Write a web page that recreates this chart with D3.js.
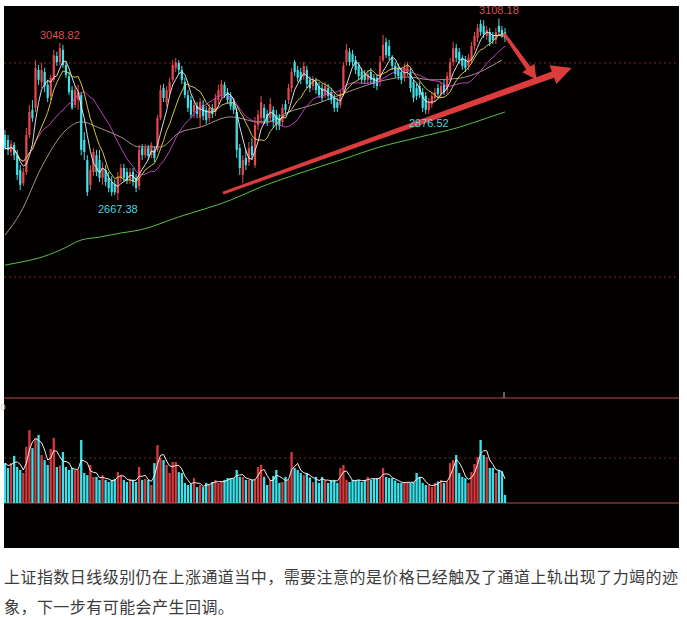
<!DOCTYPE html>
<html><head><meta charset="utf-8">
<script src="https://cdn.jsdelivr.net/npm/d3@7"></script>
<style>
html,body{margin:0;padding:0;background:#fff;}
svg{display:block;}
</style></head>
<body>
<svg id="chart" width="687" height="618"></svg>
<script>
// ---- DATA ----
// daily candles: [open, high, low, close]
const ohlc = [
[2825,2837,2789,2793],[2813,2825,2776,2789],[2784,2813,2774,2803],[2801,2808,2764,2776],[2776,2789,2716,2728],
[2740,2752,2691,2704],[2708,2745,2701,2735],[2735,2842,2728,2825],[2825,2898,2818,2881],[2886,2910,2857,2866],
[2891,3007,2881,2988],[2983,2995,2947,2959],[2954,3000,2939,2983],[2978,2988,2929,2944],[2947,2959,2905,2915],
[2920,2971,2910,2964],[2959,3032,2954,3019],[3017,3027,2993,3002],[3002,3048.82,2995,3036],[3032,3044,2988,2995],
[2995,3002,2964,2971],[2968,2978,2922,2929],[2934,2944,2886,2891],[2898,2944,2891,2934],[2910,2947,2886,2929],
[2922,2929,2776,2789],[2813,2832,2764,2784],[2764,2776,2677,2686],[2704,2752,2691,2740],[2735,2793,2725,2784],
[2776,2789,2725,2735],[2764,2789,2711,2721],[2721,2759,2704,2745],[2740,2752,2701,2711],[2721,2735,2686,2696],
[2711,2725,2677,2686],[2706,2716,2679,2686],[2684,2735,2667.38,2721],[2721,2755,2711,2745],[2745,2755,2711,2721],
[2735,2745,2706,2716],[2716,2745,2706,2735],[2735,2745,2701,2711],[2721,2730,2686,2696],[2701,2801,2691,2789],
[2793,2803,2764,2776],[2776,2803,2769,2793],[2793,2801,2764,2774],[2776,2808,2769,2801],[2789,2798,2759,2769],
[2789,2874,2784,2866],[2866,2947,2861,2934],[2939,2949,2905,2915],[2905,2944,2895,2934],[2929,2964,2920,2954],
[2959,3007,2954,2995],[2988,3012,2978,3002],[3000,3007,2973,2983],[2983,2993,2949,2959],[2954,2964,2915,2922],
[2922,2934,2881,2891],[2910,2920,2866,2874],[2881,2910,2866,2898],[2895,2905,2866,2876],[2866,2915,2844,2905],
[2898,2910,2861,2871],[2886,2895,2852,2861],[2866,2900,2857,2891],[2891,2900,2866,2876],[2881,2925,2871,2915],
[2910,2947,2900,2934],[2922,2959,2915,2949],[2947,2954,2915,2922],[2929,2939,2900,2910],[2920,2929,2886,2895],
[2905,2915,2876,2886],[2881,2891,2769,2789],[2793,2803,2728,2745],[2728,2776,2708,2764],[2769,2789,2740,2752],
[2759,2808,2750,2793],[2798,2818,2764,2776],[2752,2869,2745,2849],[2849,2886,2837,2874],[2866,2920,2857,2905],
[2891,2900,2852,2866],[2876,2886,2847,2857],[2866,2915,2857,2900],[2886,2895,2842,2857],[2874,2886,2837,2849],
[2866,2876,2837,2847],[2857,2900,2847,2891],[2900,2910,2876,2886],[2910,2949,2900,2939],[2939,2988,2929,2978],
[3002,3007,2968,2978],[2983,2993,2954,2964],[2978,2988,2949,2959],[2968,3002,2959,2993],[2983,2993,2939,2949],
[2959,2968,2929,2939],[2944,2968,2934,2959],[2954,2964,2925,2934],[2944,2954,2915,2922],[2939,2949,2905,2915],
[2922,2954,2915,2944],[2939,2949,2910,2920],[2929,2939,2900,2910],[2915,2925,2881,2891],[2905,2915,2881,2891],
[2898,2934,2891,2925],[2929,3002,2920,2993],[3002,3046,2993,3032],[3027,3036,2993,3002],[3022,3032,2993,3002],
[3007,3017,2973,2983],[2993,3002,2959,2968],[2978,2988,2949,2959],[2973,2983,2949,2959],[2959,2983,2949,2973],
[2978,2988,2949,2959],[2964,2973,2939,2949],[2964,2973,2934,2944],[2954,3017,2944,3002],[3007,3068,3002,3044],
[3051,3061,3012,3019],[3041,3056,3007,3017],[3012,3019,2983,2993],[2993,3002,2964,2973],[2988,2998,2959,2968],
[2978,2988,2949,2959],[2964,2998,2954,2988],[2978,3002,2968,2995],[2978,2988,2929,2939],[2954,2959,2905,2915],
[2939,2949,2910,2920],[2944,2954,2915,2922],[2929,2939,2881,2891],[2920,2929,2876,2886],[2886,2915,2876.52,2905],
[2900,2929,2891,2920],[2915,2939,2905,2929],[2939,2949,2915,2925],[2925,2954,2915,2944],[2947,2959,2922,2929],
[2934,2978,2925,2968],[2964,3012,2954,3002],[3002,3051,2993,3036],[3036,3046,3002,3012],[3027,3036,2998,3007],
[3012,3019,2983,2993],[3007,3017,2978,2988],[2993,3022,2983,3012],[3007,3051,2998,3041],[3041,3075,3032,3066],
[3061,3095,3051,3085],[3095,3105,3066,3075],[3090,3104,3061,3070],[3066,3090,3056,3080],[3075,3085,3041,3051],
[3066,3075,3046,3056],[3056,3085,3046,3075],[3090,3108.18,3066,3075],[3080,3090,3061,3068],[3075,3085,3051,3061]
];
// daily volume (same order as candles)
const volume = [
133,117,133,157,120,110,100,187,243,183,217,227,160,143,127,180,217,120,125,170,
120,110,117,110,110,210,100,93,127,87,87,77,93,77,70,77,80,103,90,77,
70,80,77,70,120,77,80,77,60,133,193,150,143,127,100,137,137,103,100,67,
60,63,83,53,60,53,67,63,70,77,67,70,77,83,83,83,110,87,87,77,
77,77,77,120,127,87,60,77,90,110,67,70,87,77,170,117,110,100,93,100,
85,70,87,67,87,75,67,77,77,67,117,127,77,70,77,77,77,70,77,87,
77,80,83,87,117,87,83,83,75,67,67,70,70,67,70,100,87,67,60,60,
53,67,72,77,67,70,133,143,160,100,87,83,67,103,130,153,210,160,153,117,
117,100,110,105,27
];
// long moving averages (candle index, value)
const ma60Idx = [0,5,12,20,25,31,38,44,51,57,64,74,85,92,103,114,125,132,140,149,163];
const ma60Val = [2582,2635,2747,2837,2857,2842,2820,2796,2796,2830,2844,2869,2854,2878,2903,2934,2959,2966,2959,2963,3007];
const maLongIdx = [0,5,11,18,25,31,38,44,57,74,84,97,110,123,136,149,158,164];
const maLongVal = [2509,2516,2526,2545,2570,2577,2587,2594,2626,2667,2699,2733,2764,2796,2820,2844,2866,2881];
// extreme-price labels
const peakLabels = [
  {i:18, v:3048.82, side:"top"},
  {i:37, v:2667.38, side:"bottom"},
  {i:139, v:2876.52, side:"bottom"},
  {i:162, v:3108.18, side:"top"}
];
// horizontal reference lines
const priceGrid = [3000, 2480];
const volGrid = [150];
// hand-drawn arrows in data coordinates [index, price]
const arrows = [
  {from:[71.5,2684], to:[185.9,2988], w0:3, w1:6.5, head:20, hw:10},
  {from:[163.6,3072], to:[174.3,2960], w0:3, w1:5, head:14, hw:7.5}
];
const caption = [
  "上证指数日线级别仍在上涨通道当中，需要注意的是价格已经触及了通道上轨出现了力竭的迹",
  "象，下一步有可能会产生回调。"
];

// ---- DRAW ----
const svg = d3.select("#chart");
const P = {x:4, y:6, w:675, h:542};
const UP = "#e8484c", DOWN = "#44e0e8";

svg.append("rect").attr("x",P.x).attr("y",P.y).attr("width",P.w).attr("height",P.h).attr("fill","#030000");
svg.append("clipPath").attr("id","clip").append("rect")
  .attr("x",P.x).attr("y",P.y).attr("width",P.w).attr("height",P.h);
const g = svg.append("g").attr("clip-path","url(#clip)");

const N = ohlc.length;
const x = d3.scaleLinear().domain([0, N-1]).range([5, 505]);
const y = d3.scaleLinear().domain([2400, 3150]).range([310, 1.2]);
const yv = d3.scaleLinear().domain([0, 350]).range([503, 398]);

// grid / separators
priceGrid.forEach(v=>{
  g.append("line").attr("x1",P.x).attr("x2",P.x+P.w).attr("y1",y(v)).attr("y2",y(v))
   .attr("stroke","#7a2a2a").attr("stroke-width",1).attr("stroke-dasharray","2,3");
});
volGrid.forEach(v=>{
  g.append("line").attr("x1",P.x).attr("x2",P.x+P.w).attr("y1",yv(v)).attr("y2",yv(v))
   .attr("stroke","#6a2a2a").attr("stroke-width",1).attr("stroke-dasharray","2,3");
});
[yv(350), yv(0)].forEach(yy=>{
  g.append("line").attr("x1",P.x).attr("x2",P.x+P.w).attr("y1",yy).attr("y2",yy)
   .attr("stroke","#7a3434").attr("stroke-width",1.5);
});
g.append("line").attr("x1",x(N-1)-1).attr("x2",x(N-1)-1).attr("y1",yv(350)-6).attr("y2",yv(350))
  .attr("stroke","#bbbbbb").attr("stroke-width",1);

// long MAs
const lineGen = d3.line().x(d=>x(d[0])).y(d=>y(d[1])).curve(d3.curveMonotoneX);
g.append("path").datum(maLongIdx.map((d,k)=>[d,maLongVal[k]])).attr("d",lineGen)
  .attr("fill","none").attr("stroke","#58c040").attr("stroke-width",1);
g.append("path").datum(ma60Idx.map((d,k)=>[d,ma60Val[k]])).attr("d",lineGen)
  .attr("fill","none").attr("stroke","#a89090").attr("stroke-width",1);

// candles
const cw = 2.2;
const cg = g.append("g");
ohlc.forEach((d,i)=>{
  const [o,h,l,c] = d;
  const col = c>=o ? UP : DOWN;
  cg.append("line").attr("x1",x(i)).attr("x2",x(i)).attr("y1",y(h)).attr("y2",y(l))
    .attr("stroke",col).attr("stroke-width",1);
  const top = y(Math.max(o,c)), bot = y(Math.min(o,c));
  cg.append("rect").attr("x",x(i)-cw/2).attr("y",top).attr("width",cw).attr("height",Math.max(1,bot-top))
    .attr("fill",col);
});

// short MAs computed from closes
function movAvg(arr, n){
  return arr.map((_,i)=>{ const s = arr.slice(Math.max(0,i-n+1), i+1); return d3.mean(s); });
}
const closes = ohlc.map(d=>d[3]);
const simple = d3.line().x((d,i)=>x(i)).y(d=>y(d));
[[20,"#d048d0"],[10,"#e8d848"],[5,"#f0f0f0"]].forEach(([n,col])=>{
  g.append("path").datum(movAvg(closes,n)).attr("d",simple)
   .attr("fill","none").attr("stroke",col).attr("stroke-width",1).attr("opacity",0.9);
});

// volume bars
const vw = 2.3;
volume.forEach((v,i)=>{
  const [o,,,c] = ohlc[i];
  g.append("rect").attr("x",x(i)-vw/2).attr("y",yv(v)).attr("width",vw).attr("height",yv(0)-yv(v))
    .attr("fill", c>=o ? "#d8383c" : "#38e4ec");
});
const volLine = d3.line().x((d,i)=>x(i)).y(d=>yv(d));
g.append("path").datum(movAvg(volume,3)).attr("d",volLine)
  .attr("fill","none").attr("stroke","#f4eaea").attr("stroke-width",1);

// arrows
arrows.forEach(a=>{
  const x0=x(a.from[0]), y0=y(a.from[1]), x1=x(a.to[0]), y1=y(a.to[1]);
  const dx=x1-x0, dy=y1-y0, L=Math.hypot(dx,dy), ux=dx/L, uy=dy/L, nx=-uy, ny=ux;
  const bx=x1-ux*a.head, by=y1-uy*a.head;
  const pts=[
    [x0+nx*a.w0/2, y0+ny*a.w0/2],
    [bx+nx*a.w1/2, by+ny*a.w1/2],
    [bx+nx*a.hw, by+ny*a.hw],
    [x1,y1],
    [bx-nx*a.hw, by-ny*a.hw],
    [bx-nx*a.w1/2, by-ny*a.w1/2],
    [x0-nx*a.w0/2, y0-ny*a.w0/2]
  ];
  g.append("polygon").attr("points",pts.map(p=>p.join(",")).join(" "))
    .attr("fill","#e8403f").attr("opacity",0.95);
});

// extreme labels
peakLabels.forEach(p=>{
  const d = ohlc[p.i];
  const yy = p.side==="top" ? y(d[1])-4 : y(d[2])+13;
  g.append("text").attr("x",x(p.i)).attr("y",yy).attr("text-anchor","middle")
    .attr("font-family","Liberation Sans, Arial, sans-serif").attr("font-size",11)
    .attr("fill", p.side==="top" ? "#d85050" : "#50d4e0")
    .text(p.v.toFixed(2));
});

// axis digit at left of volume panel
svg.append("text").attr("x",0.5).attr("y",410).attr("font-family","Liberation Sans, Arial, sans-serif")
  .attr("font-size",9).attr("fill","#cccccc").text("0");

// caption
caption.forEach((t,k)=>{
  svg.append("text").attr("x",4).attr("y",583+k*30)
    .attr("font-family","Noto Sans CJK SC, sans-serif").attr("font-size",16)
    .attr("letter-spacing","0.45px").attr("fill","#3c3c3c").text(t);
});
</script>
</body></html>
